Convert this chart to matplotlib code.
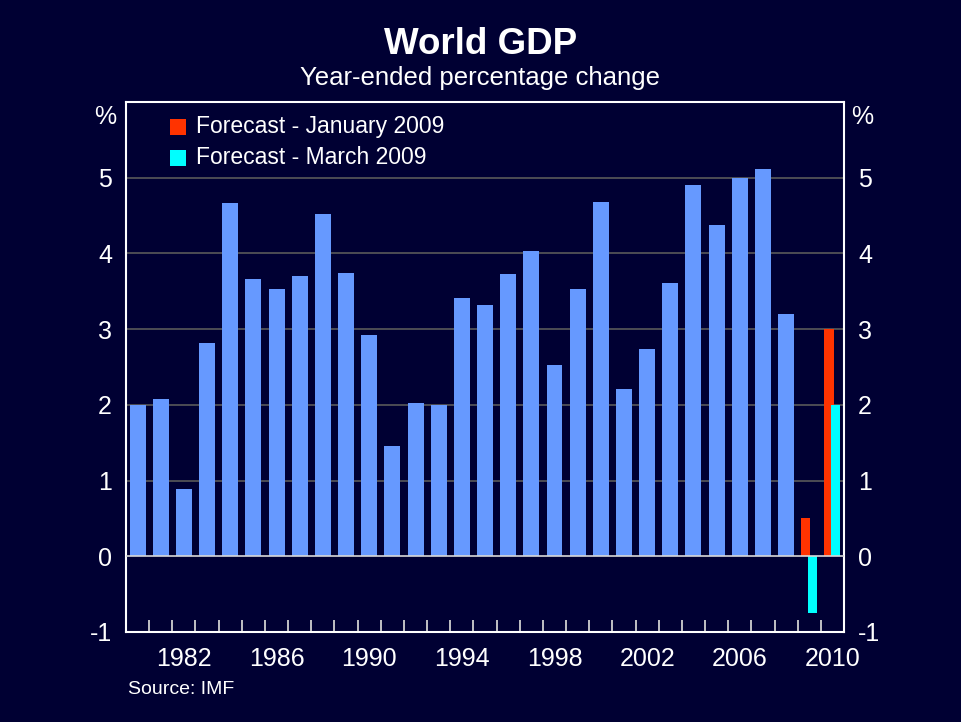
import matplotlib
matplotlib.use("Agg")
import matplotlib.pyplot as plt
from matplotlib.patches import Rectangle

years = list(range(1980, 2009))
gdp = [2.00, 2.08, 0.89, 2.82, 4.66, 3.66, 3.53, 3.70, 4.52, 3.74,
       2.92, 1.46, 2.02, 2.00, 3.41, 3.32, 3.73, 4.03, 2.53, 3.53,
       4.68, 2.21, 2.74, 3.61, 4.91, 4.38, 5.00, 5.11, 3.20]
forecast_years = [2009, 2010]
forecast_jan = [0.50, 3.00]
forecast_mar = [-0.75, 2.00]
legend_labels = ["Forecast - January 2009", "Forecast - March 2009"]
xtick_years = [1982, 1986, 1990, 1994, 1998, 2002, 2006, 2010]
ytick_vals = [-1, 0, 1, 2, 3, 4, 5]

BG = "#000033"
BLUE = "#6699FF"
RED = "#FF3300"
CYAN = "#00FFFF"
FONT = "Liberation Sans"

plt.rcParams["font.family"] = [FONT, "DejaVu Sans"]

fig = plt.figure(figsize=(9.61, 7.22), dpi=100, facecolor=BG)
ax = fig.add_axes([0.1311, 0.1247, 0.8783 - 0.1311, 0.8587 - 0.1247])
ax.set_facecolor(BG)

for v in [1, 2, 3, 4, 5]:
    ax.axhline(v, color="#5a5a5a", lw=1.2, zorder=1)

ax.bar(years, gdp, width=0.69, bottom=0, color=BLUE, zorder=2)
off = 0.15
w = 0.39
ax.bar([y - off for y in forecast_years], forecast_jan, width=w, color=RED, zorder=2)
ax.bar([y + off for y in forecast_years], forecast_mar, width=w, color=CYAN, zorder=3)
ax.axhline(0, color="#d8d8d8", lw=1.2, zorder=4)

ax.set_xlim(1979.5, 2010.5)
ax.set_ylim(-1, 6)

for s in ax.spines.values():
    s.set_color("white")
    s.set_linewidth(1.5)

ax.set_xticks(xtick_years)
ax.set_xticklabels([str(y) for y in xtick_years])
ax.set_xticks([y + 0.5 for y in range(1980, 2010)], minor=True)
ax.tick_params(axis="x", which="major", length=0, pad=11, labelsize=18, labelcolor="white")
ax.tick_params(axis="x", which="minor", direction="in", length=9, width=1.3, color="#d0d0d0")

ax.set_yticks(ytick_vals)
ax.set_yticklabels([str(v) for v in ytick_vals])
ax.tick_params(axis="y", which="major", length=0, pad=10, labelsize=18, labelcolor="white",
               left=True, right=True, labelleft=True, labelright=True)

fig.text(105 / 961, 1 - 117 / 722, "%", color="white", fontsize=18, ha="center", va="center")
fig.text(862 / 961, 1 - 117 / 722, "%", color="white", fontsize=18, ha="center", va="center")

fig.text(0.5, 1 - 45 / 722, "World GDP", color="white", fontsize=26.5, fontweight="bold",
         ha="center", va="center")
fig.text(0.5, 1 - 78 / 722, "Year-ended percentage change", color="white", fontsize=18.5,
         ha="center", va="center")

fig.text(128 / 961, 1 - 690 / 722, "Source: IMF", color="white", fontsize=14,
         ha="left", va="center")

# legend
for i, (lab, col) in enumerate(zip(legend_labels, [RED, CYAN])):
    yc = 127 + i * 31
    fig.patches.append(Rectangle((170 / 961, 1 - (yc + 8) / 722), 16 / 961, 16 / 722,
                                 transform=fig.transFigure, facecolor=col, edgecolor="none"))
    fig.text(196 / 961, 1 - yc / 722, lab, color="white", fontsize=16.5, ha="left", va="center")

fig.savefig("out.png", dpi=100, facecolor=BG)
